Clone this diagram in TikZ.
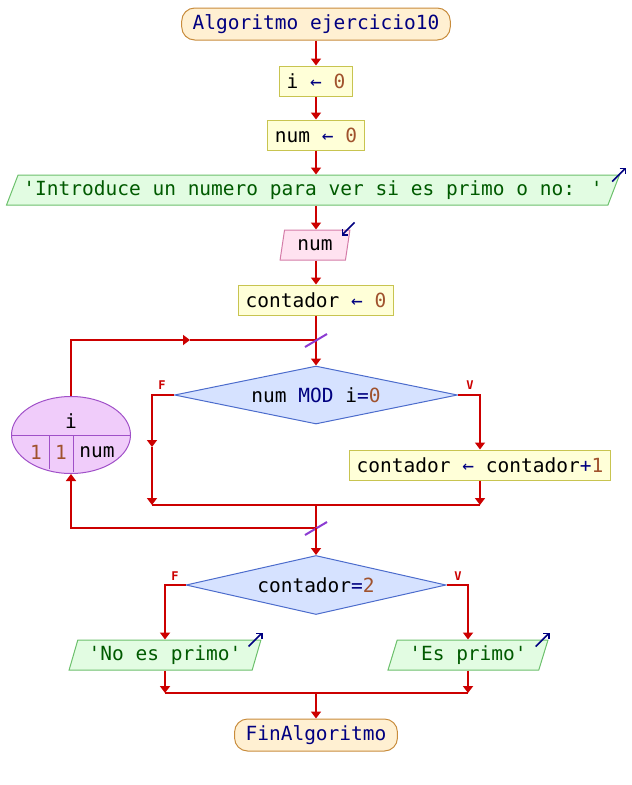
\documentclass[tikz,border=0pt]{standalone}
\usepackage{fontspec}
\setmainfont{DejaVu Sans Mono}
\usetikzlibrary{arrows.meta,shapes.geometric,calc}

\definecolor{flowred}{HTML}{CC0000}
\definecolor{kwnavy}{HTML}{000080}
\definecolor{numbrown}{HTML}{A0522D}
\definecolor{termfill}{HTML}{FFF0D2}
\definecolor{termborder}{HTML}{C88C3C}
\definecolor{asgfill}{HTML}{FFFFD8}
\definecolor{asgborder}{HTML}{C8C450}
\definecolor{outfill}{HTML}{E2FCE2}
\definecolor{outborder}{HTML}{6CC06C}
\definecolor{outtext}{HTML}{005A00}
\definecolor{infill}{HTML}{FFE2F0}
\definecolor{inborder}{HTML}{D47CA8}
\definecolor{condfill}{HTML}{D6E2FF}
\definecolor{condborder}{HTML}{4C6CCC}
\definecolor{loopfill}{HTML}{F0CCFA}
\definecolor{loopborder}{HTML}{A050C8}
\definecolor{slashcol}{HTML}{8C3CD2}

\newcommand{\kw}[1]{\textcolor{kwnavy}{#1}}
\newcommand{\nm}[1]{\textcolor{numbrown}{#1}}
\newcommand{\asg}{\kw{←}}
\newcommand{\sq}{\textquotesingle}

\tikzset{
  every node/.style={font=\fontsize{19.5}{22}\selectfont},
  wire/.style={draw=flowred, line width=2pt},
  flow/.style={wire, -{Triangle[length=7pt,width=10pt]}},
  term/.style={draw=termborder, fill=termfill, line width=1pt, rounded corners=13pt,
    minimum height=32pt, inner xsep=11pt, text=kwnavy},
  assign/.style={draw=asgborder, fill=asgfill, line width=1pt, minimum height=30pt,
    inner xsep=7pt},
  iobox/.style={trapezium, trapezium stretches=true, trapezium left angle=#1,
    trapezium right angle={180-#1}, line width=1pt, minimum height=30pt, inner sep=0pt},
  outbox/.style={iobox=#1, draw=outborder, fill=outfill, text=outtext},
  inbox/.style={iobox=#1, draw=inborder, fill=infill},
  cond/.style={diamond, draw=condborder, fill=condfill, line width=1pt, inner sep=0pt},
  loopshape/.style={ellipse, draw=loopborder, fill=loopfill, line width=1pt,
    minimum width=119pt, minimum height=77pt, inner sep=0pt},
  loopline/.style={draw=loopborder, line width=1pt},
  branch/.style={text=flowred, font=\fontsize{12}{14}\selectfont\bfseries},
  slash/.style={draw=slashcol, line width=2pt},
  ioarrow/.style={draw=kwnavy, line width=1.6pt, -{Straight Barb[length=4pt,width=8pt]}},
}

\begin{document}
\begin{tikzpicture}[x=1pt,y=-1pt]
\useasboundingbox (0,0) rectangle (632,785);

% blocks
\node[term] (start) at (316,24) {Algoritmo ejercicio10};
\node[assign] (i0) at (316,81) {i \asg{} \nm{0}};
\node[assign] (num0) at (316,135) {num \asg{} \nm{0}};
\node[outbox=59, minimum width=618pt] (out1) at (313,190)
  {\sq Introduce un numero para ver si es primo o no: \sq};
\node[inbox=77, minimum width=70pt] (in1) at (315,245) {num};
\node[assign] (cont0) at (316,300) {contador \asg{} \nm{0}};
\coordinate (j1) at (316,340);
\node[cond, aspect=4.9, minimum width=283pt, minimum height=58pt] (d1) at (316,395)
  {num \kw{MOD} i\kw{=}\nm{0}};
\node[assign] (inc) at (480,465) {contador \asg{} contador\kw{+}\nm{1}};

% counting loop
\node[loopshape] (loop) at (71,435) {};
\draw[loopline] (loop.west) -- (loop.east);
\draw[loopline] (49,435) -- (49,469);
\draw[loopline] (73,435) -- (73,472);
\node (lvar) at (71,421) {i};
\node (lfrom) at (36,452) {\nm{1}};
\node (lstep) at (61,452) {\nm{1}};
\node (lto) at (97,452) {num};

\coordinate (lp1) at (190,340);
\coordinate (fmid) at (152,447);
\coordinate (jl1) at (152,505);
\coordinate (j2) at (316,505);
\coordinate (jr1) at (inc.south |- j2);
\coordinate (j3) at (316,528);

\node[cond, aspect=4.4, minimum width=260pt, minimum height=59pt] (d2) at (316,585)
  {contador\kw{=}\nm{2}};
\node[outbox=68, minimum width=192pt] (no) at (165,655) {\sq No es primo\sq};
\node[outbox=68, minimum width=160pt] (yes) at (468,655) {\sq Es primo\sq};
\coordinate (j4) at (316,693);
\node[term] (fin) at (316,735) {FinAlgoritmo};

% branch labels
\node[branch] (f1) at (162,385) {F};
\node[branch] (v1) at (470,385) {V};
\node[branch] (f2) at (175,576) {F};
\node[branch] (v2) at (458,576) {V};

% I/O markers
\draw[ioarrow] ($(out1.top right corner)+(-8,7)$) -- ($(out1.top right corner)+(6,-7)$);
\draw[ioarrow] ($(in1.top right corner)+(4,-7)$) -- ($(in1.top right corner)+(-9,6)$);
\draw[ioarrow] ($(no.top right corner)+(-13,7)$) -- ($(no.top right corner)+(1,-7)$);
\draw[ioarrow] ($(yes.top right corner)+(-13,7)$) -- ($(yes.top right corner)+(1,-7)$);

% main flow
\draw[flow] (start) -- (i0);
\draw[flow] (i0) -- (num0);
\draw[flow] (num0) -- (num0 |- out1.north);
\draw[flow] (num0 |- out1.south) -- (num0 |- in1.north);
\draw[flow] (num0 |- in1.south) -- (cont0);
\draw[wire] (cont0) -- (j1);
\draw[flow] (j1) -- (d1.north);

% inner decision
\draw[flow] (d1.west) -| (fmid);
\draw[flow] (fmid) -- (jl1);
\draw[flow] (d1.east) -| (inc.north);
\draw[flow] (inc.south) -- (jr1);
\draw[wire] (jl1) -- (jr1);

% loop return
\draw[wire] (j2) -- (j3);
\draw[flow] (j3) -| (loop.south);
\draw[flow] (loop.north) |- (lp1);
\draw[wire] (lp1) -- (j1);
\draw[slash] ($(j1)+(-11,7)$) -- ($(j1)+(11,-6)$);
\draw[slash] ($(j3)+(-11,7)$) -- ($(j3)+(11,-6)$);

% final decision
\draw[flow] (j3) -- (d2.north);
\draw[flow] (d2.west) -| (no.north);
\draw[flow] (d2.east) -| (yes.north);
\draw[flow] (no.south) -- (no.south |- j4);
\draw[flow] (yes.south) -- (yes.south |- j4);
\draw[wire] (no.south |- j4) -- (yes.south |- j4);
\draw[flow] (j4) -- (fin);
\end{tikzpicture}
\end{document}
